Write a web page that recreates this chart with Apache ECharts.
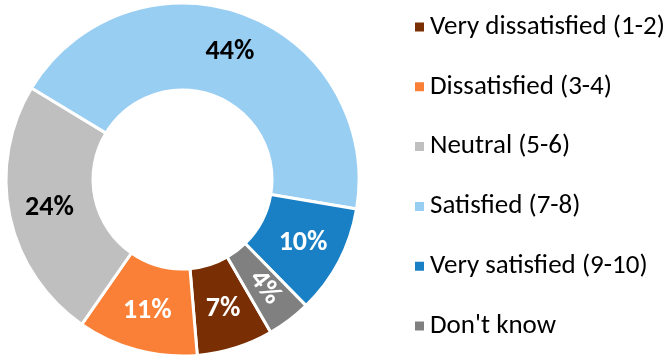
<!DOCTYPE html>
<html>
<head>
<meta charset="utf-8">
<script src="https://cdn.jsdelivr.net/npm/echarts@6/dist/echarts.min.js"></script>
<style>
  html, body { margin: 0; padding: 0; background: #fff; }
  #chart { width: 663px; height: 356px; }
</style>
</head>
<body>
<div id="chart"></div>
<script>
// Satisfaction ratings, share of respondents (%)
const categories = [
  'Very dissatisfied (1-2)',
  'Dissatisfied (3-4)',
  'Neutral (5-6)',
  'Satisfied (7-8)',
  'Very satisfied (9-10)',
  "Don't know"
];
const shares = [7, 11, 24, 44, 10, 4];
const colors = ['#7A2E03', '#F98036', '#BFBFBF', '#99CEF3', '#1A80C5', '#808080'];
const labelColors = ['#fff', '#fff', '#000', '#000', '#fff', '#fff'];

const FONT = 'Carlito, Lato, "Liberation Sans", sans-serif';

const data = categories.map((name, i) => {
  const item = {
    name,
    value: shares[i],
    itemStyle: { color: colors[i] },
    label: { color: labelColors[i] }
  };
  // the thin slice carries its label along the radius
  if (name === "Don't know") item.label.rotate = 'radial';
  return item;
});

const chart = echarts.init(document.getElementById('chart'), null, { renderer: 'canvas' });
chart.setOption({
  animation: false,
  legend: {
    orient: 'vertical',
    left: 408,
    top: 7,
    icon: 'rect',
    itemWidth: 11,
    itemHeight: 11,
    itemGap: 29.8,
    textStyle: {
      fontFamily: FONT,
      fontSize: 27,
      lineHeight: 30,
      color: '#000'
    },
    data: categories
  },
  series: [{
    type: 'pie',
    center: [182.5, 179.5],
    radius: [89.5, 176.5],
    startAngle: 300,
    clockwise: true,
    avoidLabelOverlap: false,
    itemStyle: { borderColor: '#fff', borderWidth: 3 },
    label: {
      show: true,
      position: 'inside',
      formatter: '{c}%',
      fontFamily: FONT,
      fontWeight: 'bold',
      fontSize: 28
    },
    labelLine: { show: false },
    emphasis: { disabled: true },
    data
  }]
});
</script>
</body>
</html>
